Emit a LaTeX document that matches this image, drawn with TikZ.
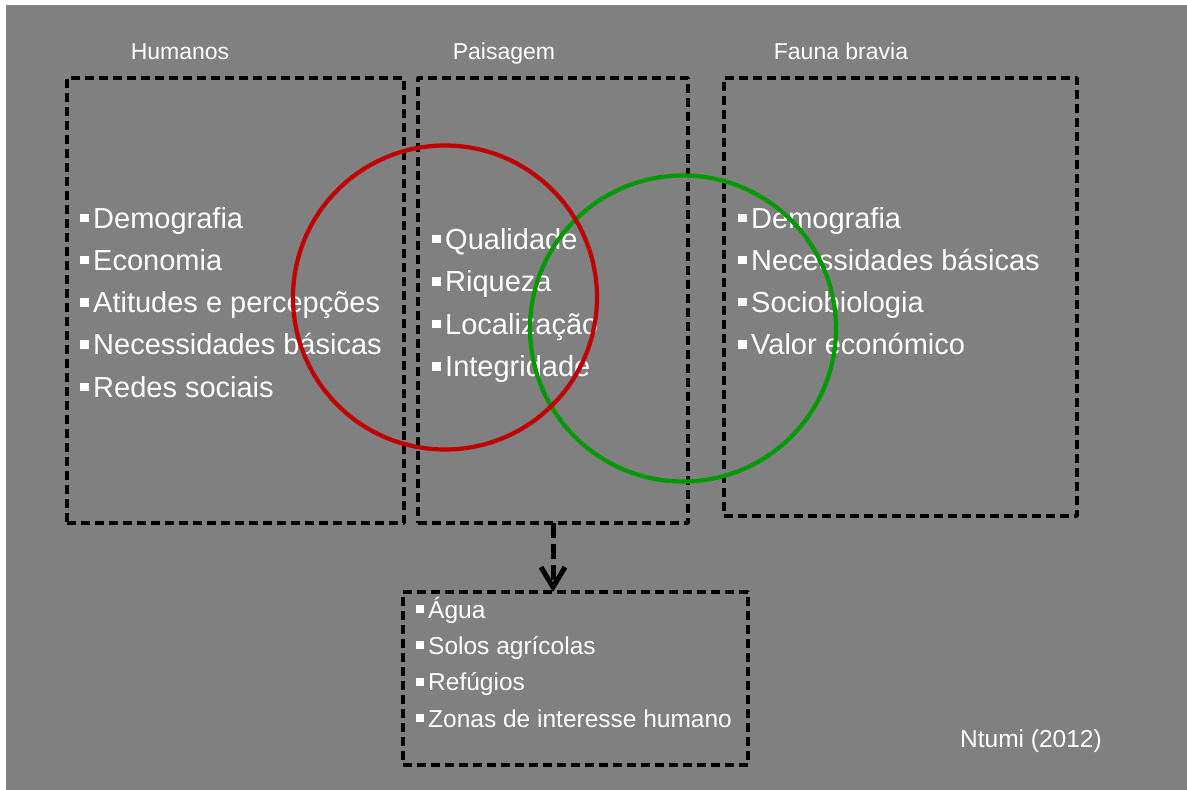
\documentclass[tikz,border=0pt]{standalone}
\usepackage{fontspec}
\setmainfont{Liberation Sans}
\usetikzlibrary{arrows.meta}
\definecolor{panel}{HTML}{808080}
\definecolor{ringred}{HTML}{C00000}
\definecolor{ringgreen}{HTML}{009A00}
\newcommand\bigsq{\rule[6pt]{8.5pt}{8.5pt}\hspace{4.5pt}}
\newcommand\smallsq{\rule[5pt]{8pt}{8pt}\hspace{4pt}}
\tikzset{
  dbox/.style={draw=black, line width=3.4pt, dash pattern=on 9pt off 5pt,
    line join=round, inner sep=0pt, outer sep=0pt, rectangle},
  ring/.style={circle, line width=4.2pt, inner sep=0pt, outer sep=0pt},
  title/.style={text=white, font=\fontsize{23}{27}\selectfont, anchor=base, inner sep=0pt},
  item/.style={text=white, font=\fontsize{29}{34}\selectfont, anchor=base west, inner sep=0pt},
  smallitem/.style={text=white, font=\fontsize{24.5}{29}\selectfont, anchor=base west, inner sep=0pt},
  arrowline/.style={draw=black, line width=5pt, dash pattern=on 15pt off 6pt,
    -{Straight Barb[length=20pt,width=24pt,line width=5pt]}},
}
\begin{document}
\begin{tikzpicture}[x=1pt,y=-1pt]
  \useasboundingbox (0,0) rectangle (1187,790);
  \fill[white] (0,0) rectangle (1187,790);
  \fill[panel] (6,5) rectangle (1187,790);

  % column headings
  \node[title] (thum) at (180,59) {Humanos};
  \node[title] (tpai) at (504,59) {Paisagem};
  \node[title] (tfau) at (841,59) {Fauna bravia};

  % dashed frames
  \node[dbox, minimum width=337pt, minimum height=445pt] (humbox) at (235.5,300.5) {};
  \node[dbox, minimum width=270pt, minimum height=445pt] (paibox) at (553,300.5) {};
  \node[dbox, minimum width=353pt, minimum height=438pt] (faubox) at (900.5,297) {};
  \node[dbox, minimum width=345pt, minimum height=173pt] (resbox) at (575.5,678.5) {};

  % arrow from the landscape frame to the resources frame
  \draw[arrowline] (paibox.south) -- (paibox.south |- resbox.north);

  % lists
  \foreach \t [count=\i] in {Demografia, Economia, Atitudes e percepções,
      Necessidades básicas, Redes sociais}
    \node[item] (hum\i) at (80,{228+42.3*(\i-1)}) {\bigsq\t};
  \foreach \t [count=\i] in {Qualidade, Riqueza, Localização, Integridade}
    \node[item] (pai\i) at (432,{249+42.5*(\i-1)}) {\bigsq\t};
  \foreach \t [count=\i] in {Demografia, Necessidades básicas, Sociobiologia,
      Valor económico}
    \node[item] (fau\i) at (738,{228+42.2*(\i-1)}) {\bigsq\t};
  \foreach \t [count=\i] in {Água, Solos agrícolas, Refúgios,
      Zonas de interesse humano}
    \node[smallitem] (res\i) at (416,{618+36.4*(\i-1)}) {\smallsq\t};

  % overlapping rings
  \node[ring, draw=ringgreen, minimum size=306pt] (green) at (683,328.5) {};
  \node[ring, draw=ringred, minimum size=304pt] (red) at (445,297.5) {};

  % source
  \node[smallitem] (src) at (960,747) {Ntumi (2012)};
\end{tikzpicture}
\end{document}
